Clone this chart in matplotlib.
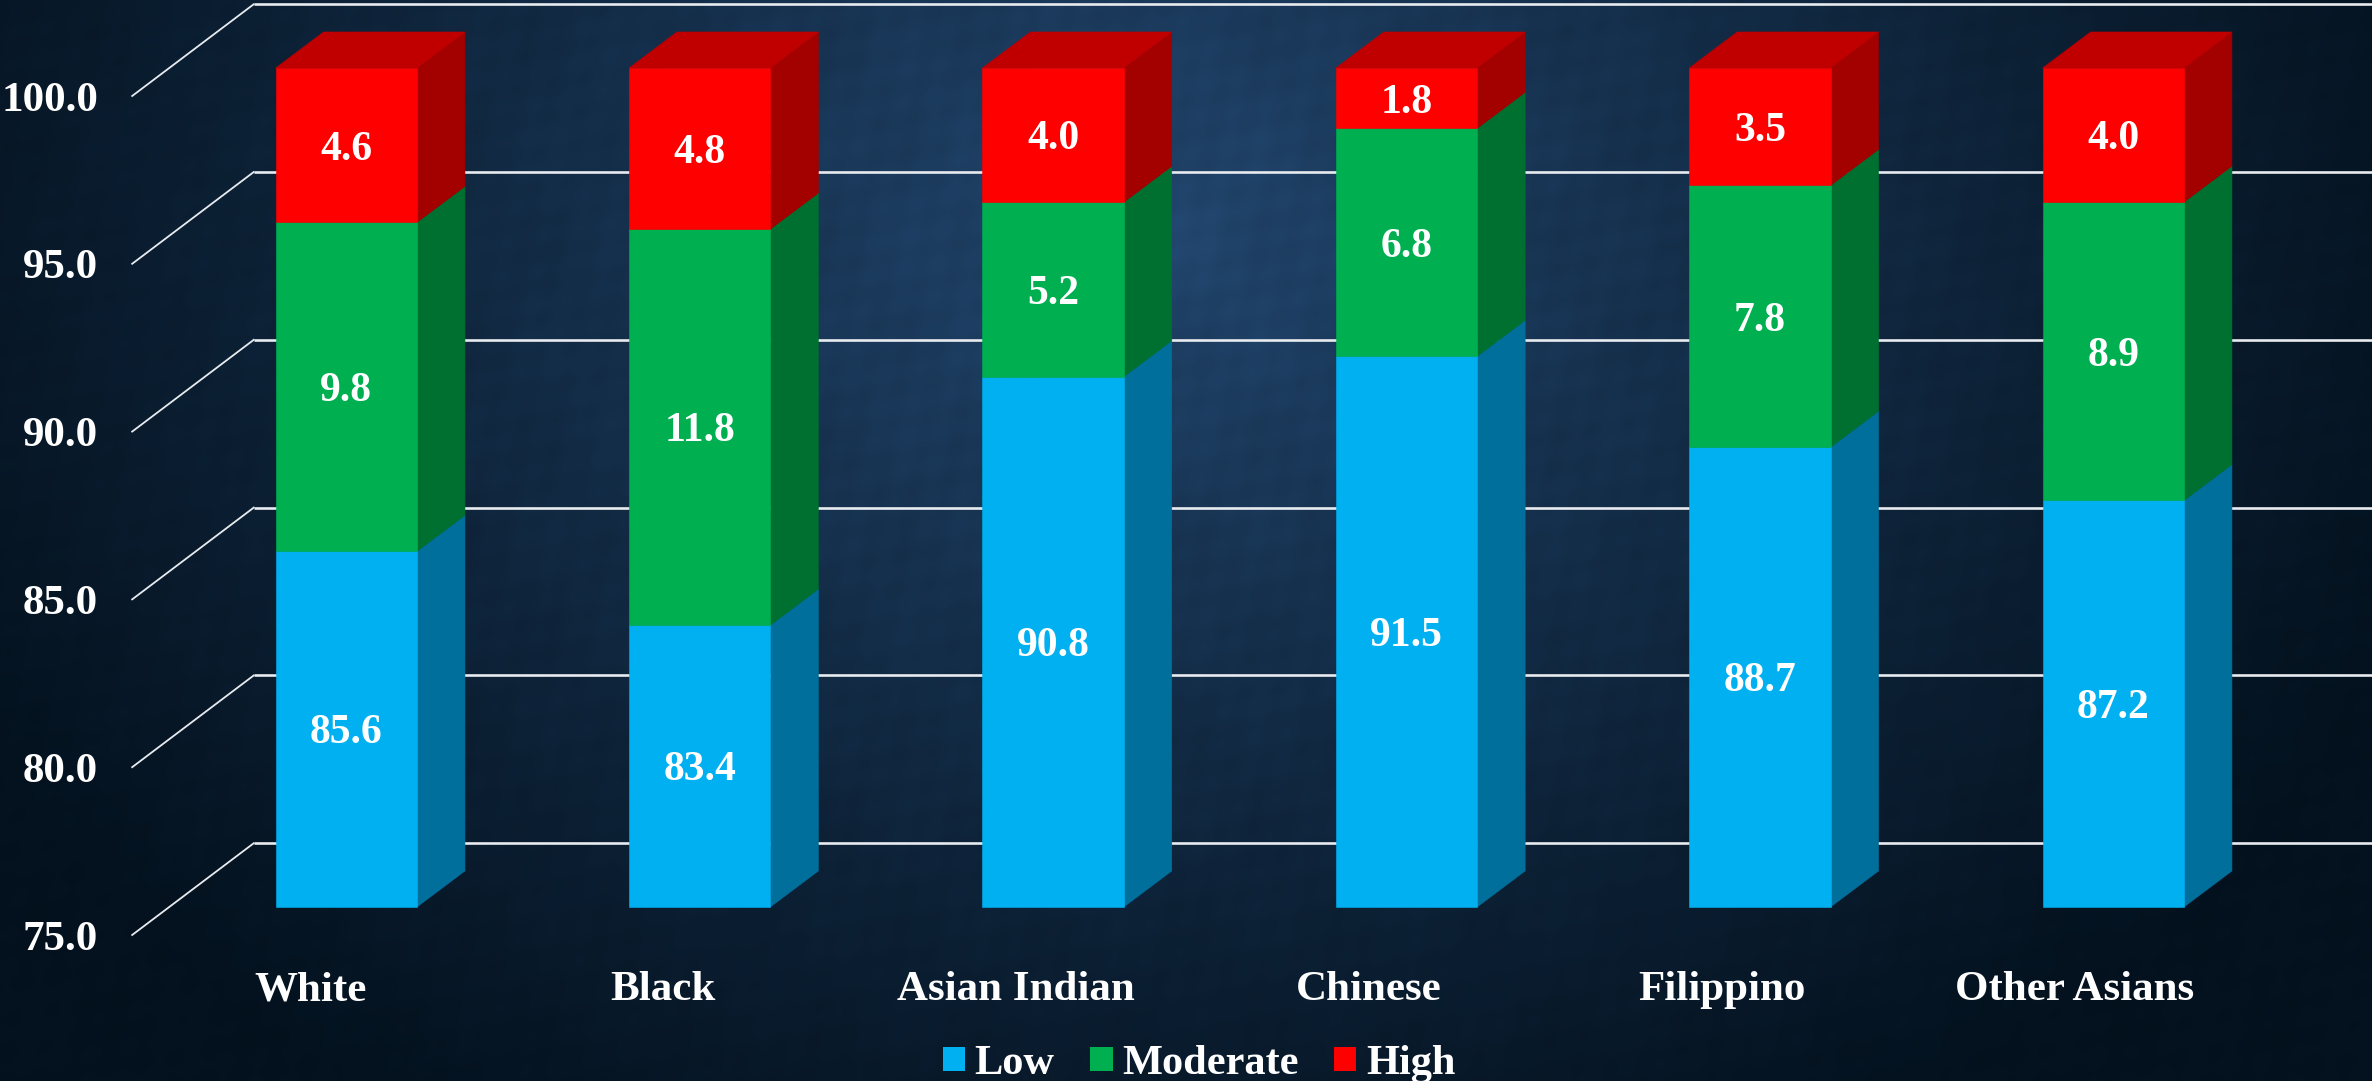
import numpy as np
import matplotlib
matplotlib.use("Agg")
import matplotlib.pyplot as plt
from matplotlib.patches import Polygon, Patch

categories = ["White", "Black", "Asian Indian", "Chinese", "Filippino", "Other Asians"]
low = [85.6, 83.4, 90.8, 91.5, 88.7, 87.2]
moderate = [9.8, 11.8, 5.2, 6.8, 7.8, 8.9]
high = [4.6, 4.8, 4.0, 1.8, 3.5, 4.0]
ticks = [75, 80, 85, 90, 95, 100]

series_names = ["Low", "Moderate", "High"]
front_colors = ["#00B0F0", "#00B050", "#FF0000"]
side_colors = ["#006F9C", "#007030", "#A30000"]
top_color = "#C00000"

W, H = 2372, 1081
base = 75

# bar width and 3d offsets, in axis units (category / value)
bar_w = 0.40
dx, dy = 0.1357, 1.073
# wall offsets relative to the plane of the bar fronts
back_dx, back_dy = -0.262, 1.90
front_dx, front_dy = -0.606, -0.834

plt.rcParams["font.family"] = ["Liberation Serif", "DejaVu Serif"]
plt.rcParams["font.weight"] = "bold"

fig = plt.figure(figsize=(W / 100, H / 100), dpi=100)

# background: dark vignette with a faint texture
bg = fig.add_axes([0, 0, 1, 1])
yy, xx = np.mgrid[0:H, 0:W]
r = np.sqrt(((xx - 1150) / 1350.0) ** 2 + ((yy - 230) / 1050.0) ** 2)
t = np.clip(1 - r, 0, 1) ** 1.15
tex = 1 + 0.025 * np.sin(xx / 23.0) * np.sin(yy / 31.0) + 0.03 * np.sin((xx + yy) / 9.0) * np.sin((xx - yy) / 13.0)
dark = np.array([4, 18, 31]) / 255
light = np.array([34, 70, 110]) / 255
img = (dark[None, None, :] + (light - dark)[None, None, :] * t[..., None]) * tex[..., None]
bg.imshow(np.clip(img, 0, 1), aspect="auto", interpolation="bilinear")
bg.axis("off")

ax = fig.add_axes([0, 0, 1, 1])
ax.patch.set_alpha(0)
ax.axis("off")
ax.set_xlim(-0.980, 5.732)
ax.set_ylim(69.815, 102.026)

# gridlines: back wall and the diagonal on the side wall
for v in ticks:
    ax.plot([back_dx, ax.get_xlim()[1]], [v + back_dy, v + back_dy], color="#E8EBEF", lw=1.9, zorder=1, solid_capstyle="butt")
    ax.plot([front_dx, back_dx], [v + front_dy, v + back_dy], color="#E8EBEF", lw=1.3, zorder=1)
    ax.text(-0.702, v + front_dy - 0.14, "%.1f" % v, color="white", fontsize=31, ha="right", va="center")

# stacked 3d bars, 100% stacked so totals of 100.1 still end at the top
for i in range(len(categories)):
    segs = [low[i], moderate[i], high[i]]
    total = sum(segs)
    start = base
    l, r_ = i - bar_w / 2, i + bar_w / 2
    cum = 0
    for j, val in enumerate(segs):
        cum += val
        end = cum / total * 100
        ax.add_patch(Polygon([(r_, start), (r_ + dx, start + dy), (r_ + dx, end + dy), (r_, end)],
                             closed=True, fc=side_colors[j], ec=side_colors[j], lw=0.4, zorder=2))
        ax.add_patch(Polygon([(l, start), (r_, start), (r_, end), (l, end)],
                             closed=True, fc=front_colors[j], ec=front_colors[j], lw=0.4, zorder=3))
        ax.text(i, (start + end) / 2 - 0.13, "%.1f" % val, color="white", fontsize=30, ha="center", va="center", zorder=5)
        start = end
    ax.add_patch(Polygon([(l, 100), (r_, 100), (r_ + dx, 100 + dy), (l + dx, 100 + dy)],
                         closed=True, fc=top_color, ec=top_color, lw=0.4, zorder=2))
    ax.text(i * 0.9985 - 0.102, 72.52, categories[i], color="white", fontsize=31, ha="center", va="center")

handles = [Patch(fc=c, ec="none", label=n) for c, n in zip(front_colors, series_names)]
leg = fig.legend(handles=handles, loc="center", bbox_to_anchor=(1199 / W, 17 / H), ncol=3, frameon=False,
                 fontsize=30.5, handlelength=0.53, handleheight=0.53, handletextpad=0.22,
                 columnspacing=0.84, borderpad=0, borderaxespad=0, labelcolor="white")

fig.savefig("out.png", dpi=100)
